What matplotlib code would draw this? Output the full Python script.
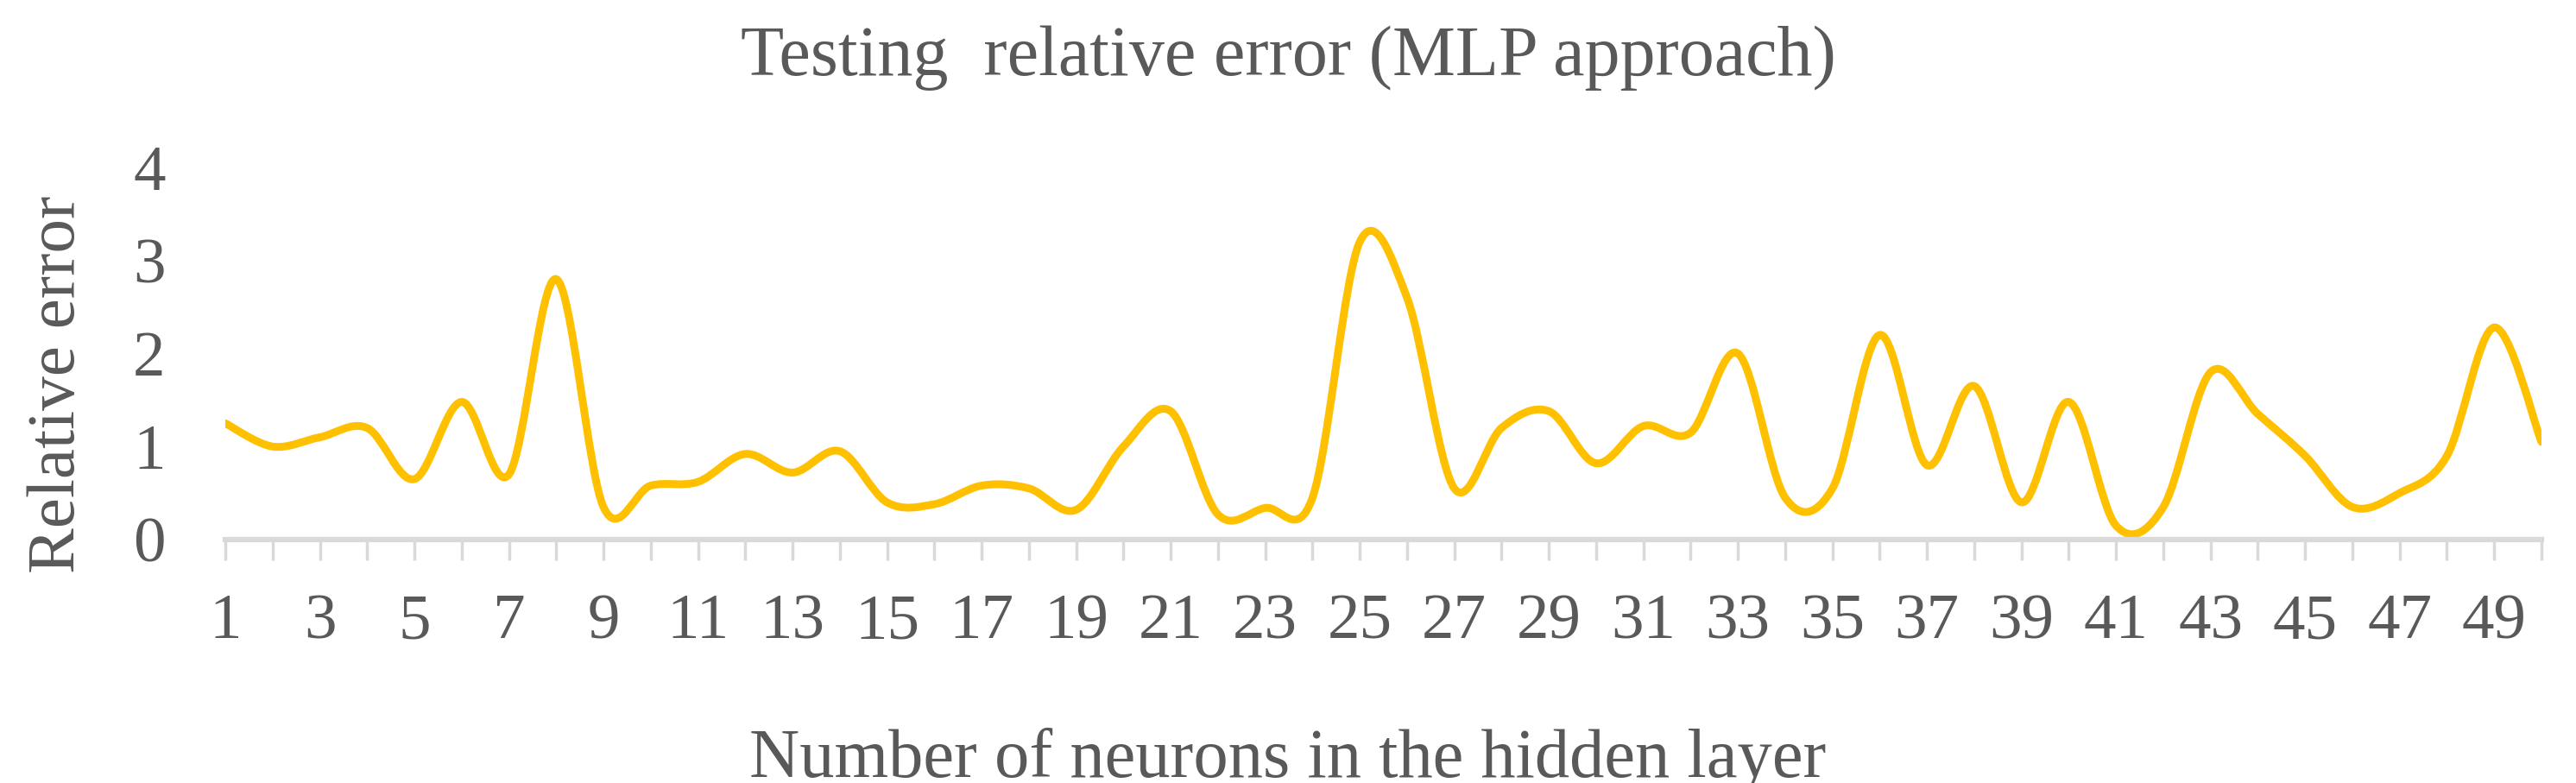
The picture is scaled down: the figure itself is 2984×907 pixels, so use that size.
import numpy as np
import matplotlib
matplotlib.use("Agg")
import matplotlib.pyplot as plt
from matplotlib.path import Path
from matplotlib.patches import PathPatch

neurons = list(range(1, 51))
rel_error = [1.25, 1.0, 1.1, 1.2, 0.65, 1.48, 0.7, 2.8, 0.35, 0.58,
             0.62, 0.92, 0.72, 0.95, 0.4, 0.38, 0.58, 0.55, 0.32, 1.0,
             1.38, 0.27, 0.34, 0.45, 3.2, 2.6, 0.55, 1.2, 1.38, 0.82,
             1.22, 1.15, 2.0, 0.45, 0.55, 2.2, 0.8, 1.65, 0.4, 1.48,
             0.15, 0.35, 1.8, 1.35, 0.9, 0.35, 0.5, 0.9, 2.28, 1.05]

plt.rcParams['font.family'] = ['Liberation Serif', 'DejaVu Serif']
TXT = '#595959'

fig = plt.figure(figsize=(29.84, 9.07), dpi=100)
ax = fig.add_axes([261/2984, 1-625/907, (2944-261)/2984, (625-194)/907])

# Smooth (Catmull-Rom style) Bezier path through the data points
x = np.array(neurons, float); y = np.array(rel_error, float)
verts = [(x[0], y[0])]; codes = [Path.MOVETO]
n = len(x)
for i in range(n-1):
    p0 = (x[i-1], y[i-1]) if i > 0 else (x[i], y[i])
    p1 = (x[i], y[i]); p2 = (x[i+1], y[i+1])
    p3 = (x[i+2], y[i+2]) if i+2 < n else p2
    t = 1/6
    c1 = (p1[0] + (p2[0]-p0[0])*t, p1[1] + (p2[1]-p0[1])*t)
    c2 = (p2[0] - (p3[0]-p1[0])*t, p2[1] - (p3[1]-p1[1])*t)
    verts += [c1, c2, p2]; codes += [Path.CURVE4]*3
ax.add_patch(PathPatch(Path(verts, codes), fill=False, edgecolor='#FFC000',
                       lw=6.5, capstyle='round', joinstyle='round'))

ax.set_xlim(1, 50)
ax.set_ylim(0, 4)
ax.set_xticks(neurons)
ax.set_xticklabels([str(i) if i % 2 == 1 else '' for i in neurons])
ax.set_yticks([0, 1, 2, 3, 4])
for s in ['top', 'right', 'left']:
    ax.spines[s].set_visible(False)
ax.spines['bottom'].set_color('#d9d9d9')
ax.spines['bottom'].set_linewidth(4.5)
ax.tick_params(axis='x', direction='out', length=17, width=2.5, color='#d9d9d9',
               labelsize=54, labelcolor=TXT, pad=28)
ax.tick_params(axis='y', length=0, labelsize=54, labelcolor=TXT, pad=50)

fig.text(0.5, 1-67/907, 'Testing  relative error (MLP approach)', ha='center',
         va='center', fontsize=59, color=TXT)
fig.text(0.5, 1-880/907, 'Number of neurons in the hidden layer', ha='center',
         va='center', fontsize=58, color=TXT)
fig.text(67/2984, 1-445/907, 'Relative error', ha='center', va='center',
         rotation=90, fontsize=57, color=TXT)

fig.savefig('out.png', dpi=100)
